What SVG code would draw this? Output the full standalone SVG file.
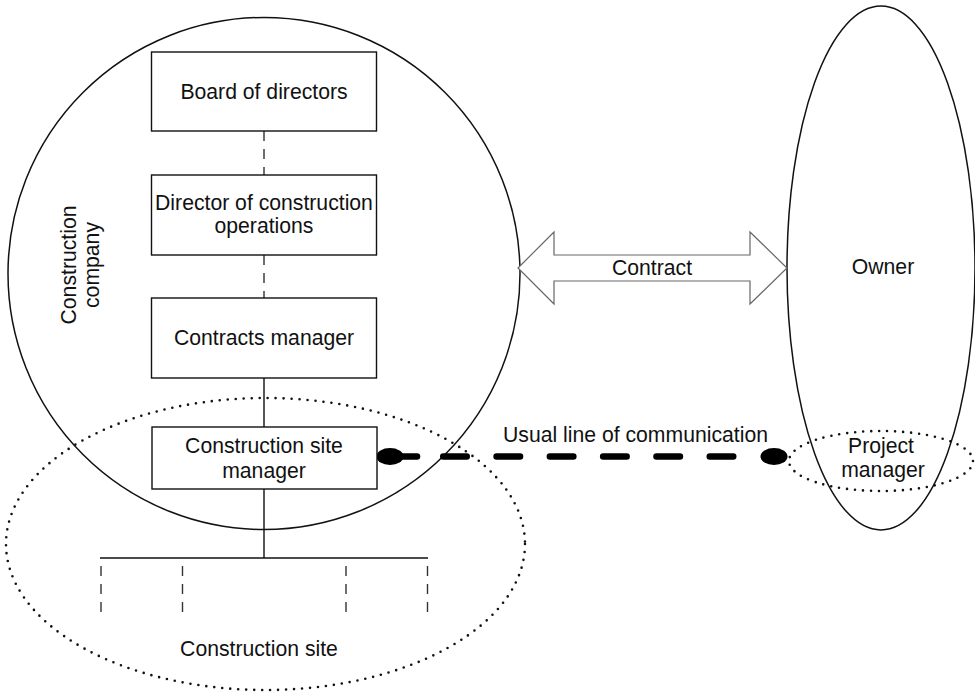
<svg xmlns="http://www.w3.org/2000/svg" width="975" height="695" viewBox="0 0 975 695">
  <style>
    text { font-family: "Liberation Sans", Arial, sans-serif; font-size: 21.2px; fill: #111; text-anchor: middle; }
    .box { fill: #fff; stroke: #111; stroke-width: 1.4; }
    .outline { fill: none; stroke: #111; stroke-width: 1.5; }
    .dotted { fill: none; stroke: #111; stroke-width: 2.6; stroke-linecap: round; stroke-dasharray: 0 8; }
    .solid { fill: none; stroke: #111; stroke-width: 1.4; }
    .dash { fill: none; stroke: #333; stroke-width: 1.4; stroke-dasharray: 10 8; }
    .comm { fill: none; stroke: #000; stroke-width: 6.5; stroke-linecap: round; }
  </style>
  <defs>
    <ellipse id="blob" cx="0" cy="0" rx="13.5" ry="8.5" fill="#000"/>
  </defs>
  <rect width="975" height="695" fill="#fff"/>

  <!-- enclosing regions -->
  <g id="construction-company">
    <circle class="outline" cx="264" cy="273.5" r="256"/>
    <text transform="translate(76 265) rotate(-90)">Construction</text>
    <text transform="translate(99 265) rotate(-90)">company</text>
  </g>
  <g id="construction-site">
    <ellipse class="dotted" cx="265.5" cy="544" rx="259.5" ry="146"/>
    <text x="259" y="656">Construction site</text>
  </g>
  <g id="owner">
    <ellipse class="outline" cx="881" cy="268" rx="94" ry="262"/>
    <text x="883" y="274">Owner</text>
  </g>

  <!-- connectors -->
  <g id="connectors">
    <path class="dash" d="M264 131 V175"/>
    <path class="dash" d="M264 255 V298"/>
    <path class="solid" d="M264 378 V427 M264 489 V558 M100 558 H428"/>
    <path class="dash" d="M101 566 V620 M182.5 566 V620 M346 566 V620 M427.5 566 V620"/>
    <!-- contract: hollow double arrow -->
    <polygon points="518,268 554,232 554,255 750,255 750,232 787,268 750,304 750,281 554,281 554,304" fill="#fff" stroke="#666" stroke-width="1.2"/>
    <text x="652" y="275">Contract</text>
    <!-- usual line of communication -->
    <path class="comm" d="M392 456.5 H417"/>
    <path class="comm" d="M443.25 456.5 H734" stroke-dasharray="23.5 29.8"/>
    <use href="#blob" x="390" y="456.5"/>
    <use href="#blob" x="774" y="456.5"/>
    <text x="635.5" y="441.5">Usual line of communication</text>
  </g>

  <!-- organisation boxes -->
  <g id="board-of-directors">
    <rect class="box" x="151.5" y="52" width="225" height="79"/>
    <text x="264" y="98.5">Board of directors</text>
  </g>
  <g id="director-of-construction-operations">
    <rect class="box" x="151.5" y="175" width="225" height="80"/>
    <text x="264" y="210">Director of construction</text>
    <text x="264" y="233">operations</text>
  </g>
  <g id="contracts-manager">
    <rect class="box" x="151.5" y="298" width="225" height="80"/>
    <text x="264" y="345">Contracts manager</text>
  </g>
  <g id="construction-site-manager">
    <rect class="box" x="152" y="427" width="225" height="62"/>
    <text x="264" y="452.5">Construction site</text>
    <text x="264" y="477.5">manager</text>
  </g>
  <g id="project-manager">
    <ellipse class="dotted" cx="881" cy="461" rx="92" ry="30"/>
    <text x="881" y="453">Project</text>
    <text x="883" y="477">manager</text>
  </g>
</svg>
